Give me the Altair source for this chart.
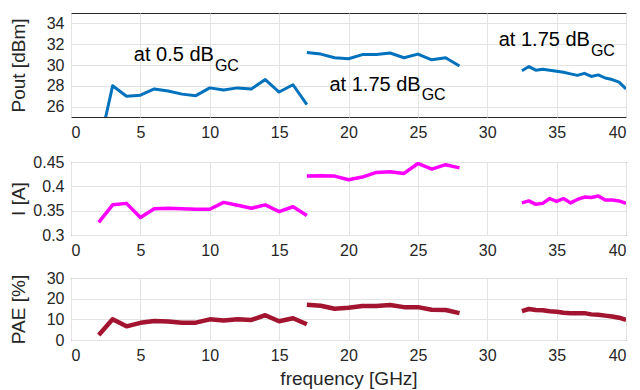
import altair as alt
import pandas as pd

# ---- data ----
freq_a = [2, 3, 4, 5, 6, 7, 8, 9, 10, 11, 12, 13, 14, 15, 16, 17]
freq_b = [17, 18, 19, 20, 21, 22, 23, 24, 25, 26, 27, 28]
freq_c = [32.5, 33, 33.5, 34, 34.5, 35, 35.5, 36, 36.5, 37, 37.5, 38, 38.5, 39, 39.5, 40]

pout_a = [22.0, 28.0, 27.0, 27.1, 27.7, 27.5, 27.2, 27.05, 27.8, 27.6, 27.8, 27.7, 28.6, 27.4, 28.1, 26.2]
pout_b = [31.2, 31.05, 30.7, 30.6, 31.0, 31.0, 31.15, 30.7, 31.05, 30.5, 30.7, 29.9]
pout_c = [29.45, 29.85, 29.5, 29.6, 29.5, 29.4, 29.3, 29.15, 29.0, 29.2, 28.9, 29.05, 28.75, 28.6, 28.35, 27.7]

cur_a = [0.326, 0.362, 0.365, 0.336, 0.354, 0.355, 0.354, 0.353, 0.353, 0.367, 0.361, 0.355, 0.362, 0.348, 0.358, 0.340]
cur_b = [0.421, 0.422, 0.421, 0.4135, 0.419, 0.4285, 0.430, 0.4265, 0.447, 0.4355, 0.4445, 0.438]
cur_c = [0.366, 0.370, 0.363, 0.365, 0.375, 0.369, 0.375, 0.366, 0.373, 0.378, 0.377, 0.380, 0.372, 0.372, 0.370, 0.365]

pae_a = [2.4, 10.0, 6.6, 8.3, 9.2, 8.9, 8.4, 8.4, 10.0, 9.4, 10.0, 9.7, 12.0, 9.1, 10.5, 7.6]
pae_b = [17.0, 16.6, 15.1, 15.6, 16.5, 16.4, 16.9, 15.9, 15.9, 14.6, 14.5, 13.0]
pae_c = [14.0, 15.0, 14.5, 14.4, 13.9, 13.7, 13.2, 13.0, 13.0, 13.0, 12.4, 12.2, 11.8, 11.4, 10.8, 9.7]

x_ticks = [0, 5, 10, 15, 20, 25, 30, 35, 40]
pout_ticks = [26, 28, 30, 32, 34]
cur_ticks = [0.3, 0.35, 0.4, 0.45]
pae_ticks = [0, 10, 20, 30]

ann_text = ["at 0.5 dB", "at 1.75 dB", "at 1.75 dB"]
ann_sub = ["GC", "GC", "GC"]
ann_x = [10.3, 25.2, 37.4]
ann_y = [30.36, 27.53, 31.87]
sub_y = [29.41, 26.6, 30.9]

FONT = "Liberation Sans"
W = 555
INK = "#262626"


def seg_df(fa, va, fb, vb, fc, vc):
    rows = []
    for seg, (fs, vs) in enumerate([(fa, va), (fb, vb), (fc, vc)]):
        for f, v in zip(fs, vs):
            rows.append({"freq": f, "val": v, "seg": seg})
    return pd.DataFrame(rows)


def x_axis(xtitle):
    return alt.Axis(values=x_ticks, title=xtitle, ticks=False, domain=False,
                    labelPadding=7, labelFontSize=16, titleFontSize=19,
                    titlePadding=6, labelColor=INK, titleColor=INK,
                    labelOverlap=False,
                    titleFontWeight="normal", gridColor="#e3e3e3")


def y_axis(ytitle, yticks, fmt, h):
    return alt.Axis(values=yticks, format=fmt, title=ytitle, ticks=False,
                    domain=False, labelPadding=7, labelFontSize=16,
                    labelOverlap=False,
                    titleFontSize=19, titleAngle=-90, titleX=-53, titleY=h / 2,
                    titleAlign="center", titleBaseline="middle",
                    labelColor=INK, titleColor=INK, titleFontWeight="normal",
                    gridColor="#e3e3e3")


def panel(df, color, sw, ytitle, domain, yticks, h, fmt, xtitle):
    line = alt.Chart(df).mark_line(color=color, strokeWidth=sw, clip=True,
                                   strokeJoin="round").encode(
        x=alt.X("freq:Q", scale=alt.Scale(domain=[0, 40], nice=False), axis=x_axis(xtitle)),
        y=alt.Y("val:Q", scale=alt.Scale(domain=domain, nice=False, zero=False),
                axis=y_axis(ytitle, yticks, fmt, h)),
        detail="seg:N",
    )
    return line.properties(width=W, height=h)


pout_df = seg_df(freq_a, pout_a, freq_b, pout_b, freq_c, pout_c)
cur_df = seg_df(freq_a, cur_a, freq_b, cur_b, freq_c, cur_c)
pae_df = seg_df(freq_a, pae_a, freq_b, pae_b, freq_c, pae_c)

ann_df = pd.DataFrame({"text": ann_text, "sub": ann_sub, "x": ann_x, "y": ann_y, "sy": sub_y})

TOP_H = 104
top_line = panel(pout_df, "#0072BD", 3, "Pout [dBm]", [25, 35], pout_ticks, TOP_H, "d", None)
main_txt = alt.Chart(ann_df).mark_text(align="right", baseline="alphabetic", fontSize=20,
                                       font=FONT, color="#000000").encode(
    x=alt.X("x:Q", axis=x_axis(None)),
    y=alt.Y("y:Q", axis=y_axis("Pout [dBm]", pout_ticks, "d", TOP_H)),
    text="text:N")
sub_txt = alt.Chart(ann_df).mark_text(align="left", baseline="alphabetic", fontSize=16,
                                      font=FONT, color="#000000", dx=1).encode(
    x=alt.X("x:Q", axis=x_axis(None)),
    y=alt.Y("sy:Q", axis=y_axis("Pout [dBm]", pout_ticks, "d", TOP_H)),
    text="sub:N")
top = alt.layer(top_line, main_txt, sub_txt).properties(width=W, height=TOP_H)

mid = panel(cur_df, "#FF00FF", 3.5, "I [A]", [0.3, 0.45], cur_ticks, 73, ".2~f", None)
bot = panel(pae_df, "#A2142F", 4.5, "PAE [%]", [0, 30], pae_ticks, 62, "d", "frequency [GHz]")

lower = alt.vconcat(mid, bot, spacing=10)
chart = alt.vconcat(top, lower, spacing=12).properties(
    padding={"left": 0, "top": 4, "right": 5, "bottom": 0}
).configure(font=FONT).configure_axis(labelOverlap=False).configure_view(stroke=INK, strokeWidth=1)

chart.save("out.html", embed_options={"renderer": "svg", "actions": False})
